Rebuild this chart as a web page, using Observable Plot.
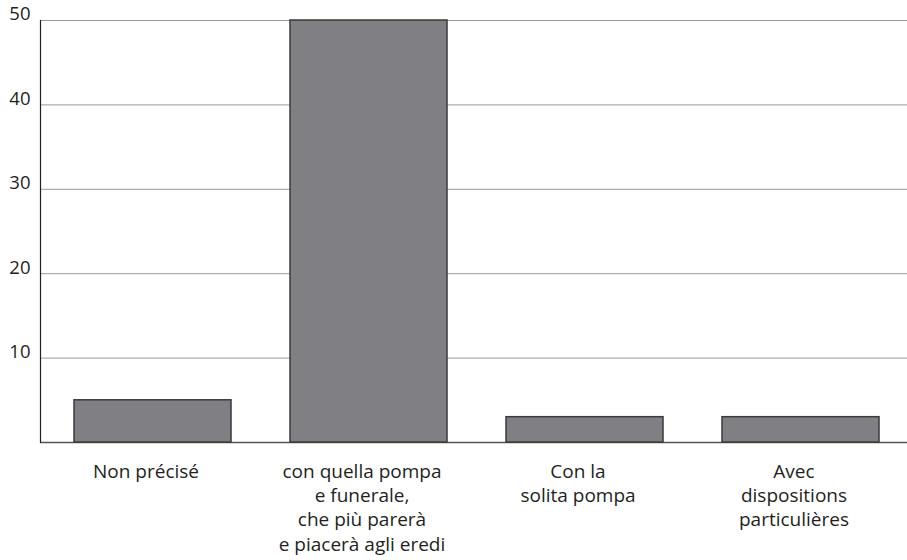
<!DOCTYPE html>
<html>
<head>
<meta charset="utf-8">
<script src="https://cdn.jsdelivr.net/npm/d3@7"></script>
<script src="https://cdn.jsdelivr.net/npm/@observablehq/plot@0.6"></script>
<style>
  html, body { margin: 0; padding: 0; background: #fff; }
  #chart svg { display: block; }
</style>
</head>
<body>
<div id="chart"></div>
<script>
const categories = ["Non précisé", "con quella pompa", "Con la solita pompa", "Avec dispositions particulières"];
const tickLabels = [
  "Non précisé",
  "con quella pompa\ne funerale,\nche più parerà\ne piacerà agli eredi",
  "Con la\nsolita pompa",
  "Avec\ndispositions\nparticulières"
];
const values = [5, 50, 3, 3];
const yTicks = [10, 20, 30, 40, 50];

const data = categories.map((c, i) => ({category: c, value: values[i]}));

const chart = Plot.plot({
  width: 907,
  height: 560,
  marginLeft: 40,
  marginRight: 0,
  marginTop: 20,
  marginBottom: 118,
  style: {fontFamily: "'Open Sans', sans-serif", fontSize: "19px", color: "#231f20", background: "#fff"},
  x: {domain: categories, paddingInner: 0.2745, paddingOuter: 0.14, align: 0.55, axis: null},
  y: {domain: [0, 50], axis: null},
  marks: [
    Plot.gridY(yTicks, {stroke: "#9a9a9a", strokeOpacity: 1, strokeWidth: 1}),
    Plot.ruleY([0], {stroke: "#555", strokeWidth: 1.5}),
    Plot.barY(data, {x: "category", y: "value", fill: "#808084", stroke: "#3a3a3a", strokeWidth: 1.5}),
    Plot.frame({anchor: "left", stroke: "#231f20", strokeWidth: 1.2}),
    Plot.axisY({ticks: yTicks, tickSize: 0, tickPadding: 10, dy: -6, fontSize: 18.5, fill: "#231f20", label: null}),
    Plot.axisX({tickSize: 0, tickPadding: 18, dx: -7, fontSize: 19, lineHeight: 1.28, fill: "#231f20", label: null,
      tickFormat: (d) => tickLabels[categories.indexOf(d)]})
  ]
});
document.getElementById("chart").appendChild(chart);
</script>
</body>
</html>
